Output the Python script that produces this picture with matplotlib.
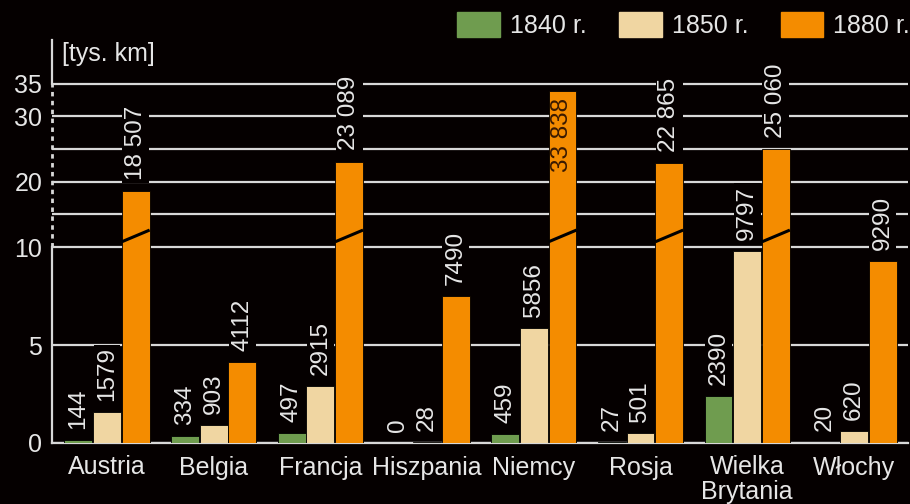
import matplotlib.pyplot as plt
import matplotlib.patches as mpatches
import matplotlib.transforms as mtransforms
import numpy as np

# Data: railway length [thousand km]
countries = ['Austria', 'Belgia', 'Francja', 'Hiszpania', 'Niemcy', 'Rosja',
             'Wielka\nBrytania', 'Włochy']
years = ['1840 r.', '1850 r.', '1880 r.']
km_1840 = [144, 334, 497, 0, 459, 27, 2390, 20]
km_1850 = [1579, 903, 2915, 28, 5856, 501, 9797, 620]
km_1880 = [18507, 4112, 23089, 7490, 33838, 22865, 25060, 9290]

colors = ['#6f9c4f', '#f0d6a2', '#f48c00']
bg = '#050000'
fg = '#e6e6e6'

plt.rcParams['font.family'] = ['Liberation Sans', 'DejaVu Sans']


# broken axis: linear up to 10, compressed 3x above
def fwd(v):
    v = np.asarray(v, dtype=float)
    return np.where(v <= 10, v, 10 + (v - 10) / 3.0)


def inv(t):
    t = np.asarray(t, dtype=float)
    return np.where(t <= 10, t, 10 + (t - 10) * 3.0)


def fmt(v):
    s = str(v)
    if v >= 10000:
        s = s[:-3] + ' ' + s[-3:]
    return s


fig = plt.figure(figsize=(9.1, 5.04), dpi=100, facecolor=bg)
ax = fig.add_axes([52/910, 1-443/504, (908-52)/910, (443-40)/504], facecolor=bg)
ax.set_yscale('function', functions=(fwd, inv))

x = np.arange(len(countries))
step = 0.269
w = 0.262
series = [km_1840, km_1850, km_1880]

for i, vals in enumerate(series):
    v = np.array(vals) / 1000.0
    xs = x + (i - 1) * step
    ax.bar(xs, v, width=w, color=colors[i], edgecolor='#000000', lw=0.6, zorder=3)
    for xi, vi, raw in zip(xs, v, vals):
        if raw > 30000:
            # label inside the bar
            ax.annotate(fmt(raw), (xi, vi), xytext=(0, -5), textcoords='offset points',
                        rotation=90, ha='center', va='top', fontsize=17.5,
                        color='#3a1a00', zorder=5)
        else:
            ax.annotate(fmt(raw), (xi, vi), xytext=(0, 8), textcoords='offset points',
                        rotation=90, ha='center', va='bottom', fontsize=17.5,
                        color=fg, zorder=5,
                        bbox=dict(boxstyle='square,pad=0.1', fc=bg, ec='none'))
        # break mark on tall bars
        if vi > 10:
            ax.plot([xi - w/2, xi + w/2], [10.8, 12.6], color='#000000', lw=2.2,
                    zorder=4, solid_capstyle='butt')

ax.set_xlim(-0.515, 7.507)
ax.set_ylim(0, 41.7)

yt = [0, 5, 10, 15, 20, 25, 30, 35]
ax.set_yticks(yt)
ax.set_yticklabels(['0', '5', '10', '', '20', '', '30', '35'])
ax.yaxis.set_minor_locator(plt.NullLocator())
ax.grid(axis='y', color='#d8d8d8', lw=1.6)
ax.set_axisbelow(True)
ax.tick_params(axis='y', length=0, pad=7, labelsize=18, colors=fg)

ax.set_xticks(x)
ax.set_xticklabels(countries, linespacing=1.0)
ax.tick_params(axis='x', length=0, pad=9, labelsize=18, colors=fg)

for s in ['top', 'right', 'left']:
    ax.spines[s].set_visible(False)
ax.spines['bottom'].set_color('#d8d8d8')
ax.spines['bottom'].set_linewidth(1.6)

# left axis line: solid / dashed / solid
tr = mtransforms.blended_transform_factory(ax.transAxes, ax.transData)
ax.plot([0, 0], [0, 10], color='#d8d8d8', lw=1.6, transform=tr, clip_on=False)
ax.plot([0, 0], [10, 35], color='#d8d8d8', lw=2.0, ls=(0, (1.6, 1.6)),
        transform=tr, clip_on=False)
ax.plot([0, 0], [35, 41.7], color='#d8d8d8', lw=1.6, transform=tr, clip_on=False)

fig.text(62/910, 1-54/504, '[tys. km]', fontsize=18, color=fg, va='center', ha='left')

handles = [mpatches.Patch(color=c) for c in colors]
fig.legend(handles, years, loc='upper right', bbox_to_anchor=(910/910, 1-12/504),
           ncol=3, frameon=False, fontsize=18, labelcolor=fg,
           handlelength=1.7, handleheight=1.15, handletextpad=0.4,
           columnspacing=1.3, borderaxespad=0, borderpad=0)

fig.savefig('out.png', dpi=100, facecolor=bg)
